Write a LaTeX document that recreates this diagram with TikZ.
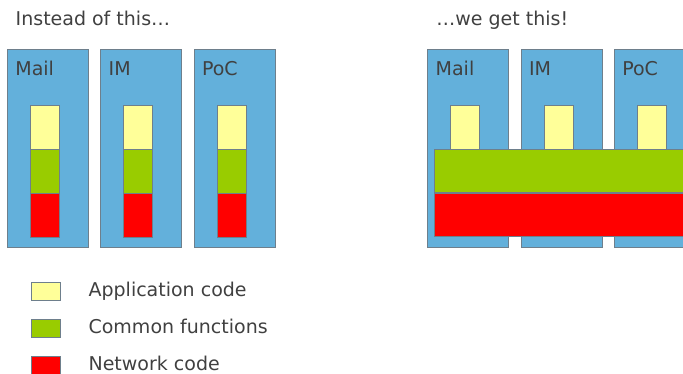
\documentclass[tikz,border=0pt]{standalone}
\usepackage{fontspec}
\setmainfont{DejaVu Sans}
\usepackage{xcolor}
\usepackage{tikz}
\usetikzlibrary{positioning}
\definecolor{appblue}{HTML}{63B0DB}
\definecolor{appyellow}{HTML}{FFFF99}
\definecolor{funcgreen}{HTML}{99CC00}
\definecolor{netred}{HTML}{FF0000}
\definecolor{txtgray}{HTML}{404040}
\definecolor{edgegray}{HTML}{6E7F8C}

\begin{document}
\begin{tikzpicture}[x=1pt,y=-1pt,node distance=11.5pt,line width=0.8pt,
every node/.style={text=txtgray,font=\fontsize{19}{23}\selectfont,inner sep=0pt},
appcol/.style={draw=edgegray,fill=appblue,minimum width=81pt,minimum height=198pt,anchor=north west},
layer/.style={draw=edgegray,minimum width=29pt,minimum height=43.3pt},
appl/.style={layer,fill=appyellow},
func/.style={layer,fill=funcgreen},
net/.style={layer,fill=netred},
lbl/.style={anchor=base west},
keytext/.style={anchor=west,text height=14pt,text depth=4pt}]
\useasboundingbox (0,0) rectangle (683,374);
\clip (0,0) rectangle (683,374);

% before: every app carries its own stack
\node[lbl] (before) at (15.3,25.7) {Instead of this…};
\node[appcol] (m1) at (7,49.3) {};
\node[appcol,right=of m1.north east,anchor=north west] (m2) {};
\node[appcol,right=of m2.north east,anchor=north west] (m3) {};
\node[lbl] (lm1) at ([xshift=8pt,yshift=-26pt]m1.north west) {Mail};
\node[lbl] (lm2) at ([xshift=8pt,yshift=-26pt]m2.north west) {IM};
\node[lbl] (lm3) at ([xshift=8pt,yshift=-26pt]m3.north west) {PoC};
\node[appl,anchor=north] (a1) at ([xshift=-3pt,yshift=-56pt]m1.north) {};
\node[func,below=0pt of a1] (g1) {};
\node[net,below=0pt of g1] (n1) {};
\node[appl,anchor=north] (a2) at ([xshift=-3pt,yshift=-56pt]m2.north) {};
\node[func,below=0pt of a2] (g2) {};
\node[net,below=0pt of g2] (n2) {};
\node[appl,anchor=north] (a3) at ([xshift=-3pt,yshift=-56pt]m3.north) {};
\node[func,below=0pt of a3] (g3) {};
\node[net,below=0pt of g3] (n3) {};

% after: shared layers under all apps
\node[lbl] (after) at (436,25.7) {…we get this!};
\node[appcol] (r1) at (427.3,49.3) {};
\node[appcol,right=of r1.north east,anchor=north west] (r2) {};
\node[appcol,right=of r2.north east,anchor=north west] (r3) {};
\node[lbl] (lr1) at ([xshift=8pt,yshift=-26pt]r1.north west) {Mail};
\node[lbl] (lr2) at ([xshift=8pt,yshift=-26pt]r2.north west) {IM};
\node[lbl] (lr3) at ([xshift=8pt,yshift=-26pt]r3.north west) {PoC};
\node[appl,anchor=north] (b1) at ([xshift=-3pt,yshift=-56pt]r1.north) {};
\node[appl,anchor=north] (b2) at ([xshift=-3pt,yshift=-56pt]r2.north) {};
\node[appl,anchor=north] (b3) at ([xshift=-3pt,yshift=-56pt]r3.north) {};
\node[func,minimum width=270pt,anchor=north west] (gall) at (433.7,149) {};
\node[net,minimum width=270pt,below=0pt of gall] (nall) {};

% legend
\node[appl,minimum height=18.7pt] (k1) at (45.8,291.3) {};
\node[func,minimum height=18.7pt] (k2) at (45.8,328.5) {};
\node[net,minimum height=18.7pt] (k3) at (45.8,365.5) {};
\node[keytext,right=27.5pt of k1] (t1) {Application code};
\node[keytext,right=27.5pt of k2] (t2) {Common functions};
\node[keytext,right=27.5pt of k3] (t3) {Network code};
\end{tikzpicture}
\end{document}
